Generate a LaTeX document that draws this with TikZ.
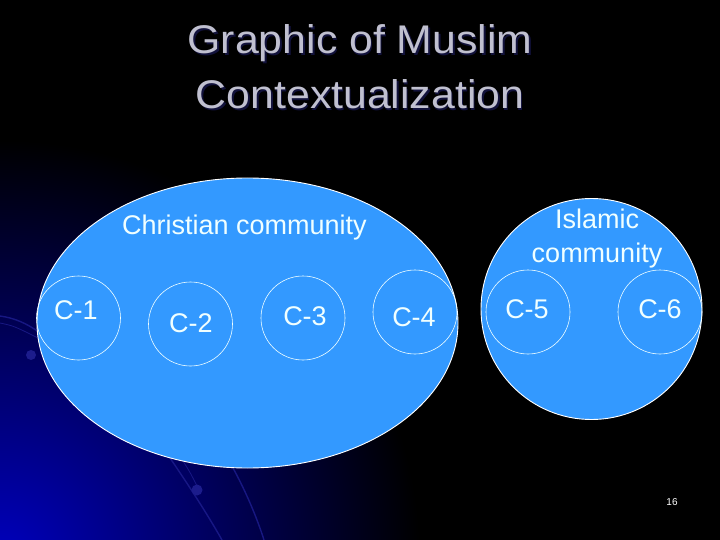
\documentclass[tikz,border=0pt]{standalone}
\usepackage{fontspec}
\setmainfont{Liberation Sans}
\usetikzlibrary{shapes.geometric}
\definecolor{skyfill}{RGB}{51,153,255}
\definecolor{titlegrey}{RGB}{192,192,208}
\definecolor{titleshadow}{RGB}{18,18,60}
\definecolor{deepblue}{RGB}{0,0,190}
\definecolor{arcblue}{RGB}{28,28,140}
\definecolor{labelwhite}{RGB}{240,255,255}
\begin{document}
\begin{tikzpicture}[x=1pt,y=-1pt,
  titletext/.style={anchor=base,inner sep=0pt,font=\fontsize{40}{48}\selectfont},
  community/.style={draw=white,line width=0.9pt,fill=skyfill},
  smallc/.style={circle,draw=labelwhite,line width=0.6pt,minimum size=84pt,inner sep=0pt},
  lbl/.style={anchor=base,inner sep=0pt,text=labelwhite,font=\fontsize{27}{33}\selectfont},
  arcline/.style={draw=arcblue,line width=1.4pt,opacity=0.85}]
\useasboundingbox (0,0) rectangle (720,540);
\fill[black] (0,0) rectangle (720,540);
\begin{scope}
  \clip (0,0) rectangle (720,540);
  \shade[inner color=deepblue, outer color=black] (0,560) circle[radius=420pt];
  % decorative arcs
  \path[arcline] (0,316) .. controls (15,318) and (28,324) .. (40,333);
  \path[arcline,line width=0.8pt] (0,323) .. controls (14,326) .. (38,338);
  \fill[arcblue] (31,355) circle[radius=5pt];
  \path[arcline] (168,455) .. controls (185,480) and (205,510) .. (222,540);
  \path[arcline,line width=0.8pt] (181,458) .. controls (190,472) .. (199,490);
  \fill[arcblue] (197,490) circle[radius=5.5pt];
  \path[arcline] (233,468) .. controls (245,490) and (256,515) .. (264,540);
\end{scope}

% title (with its soft shadow)
\foreach \t/\yy [count=\i] in {Graphic of Muslim/54, Contextualization/109}{
  \node[titletext,text=titleshadow] (shadow\i) at (361.5,\yy+1.5) {\scalebox{1.07}[1]{\t}};
  \node[titletext,text=titlegrey] (title\i) at (360,\yy) {\scalebox{1.07}[1]{\t}};
}

% communities
\node[community,ellipse,minimum width=421pt,minimum height=290pt,inner sep=0pt] (christian) at (247.5,323) {};
\node[community,circle,minimum size=221pt,inner sep=0pt] (islamic) at (591.5,309) {};

\node[lbl] (christianlbl) at (244.5,235) {Christian community};
\node[lbl] (islamiclbl1) at (597,229) {Islamic};
\node[lbl] (islamiclbl2) at (597,262) {community};

% C circles
\node[smallc] (c1) at (78.5,318) {};
\node[smallc] (c2) at (190.5,324) {};
\node[smallc] (c3) at (303,318) {};
\node[smallc] (c4) at (415,312) {};
\node[smallc] (c5) at (528,312) {};
\node[smallc] (c6) at (660,312) {};

\node[lbl] (t1) at (76,319) {C-1};
\node[lbl] (t2) at (191,332) {C-2};
\node[lbl] (t3) at (305,325) {C-3};
\node[lbl] (t4) at (414,326) {C-4};
\node[lbl] (t5) at (527,318) {C-5};
\node[lbl] (t6) at (660,318) {C-6};

% page number
\node[anchor=base,inner sep=0pt,text=white,font=\fontsize{10}{12}\selectfont] (pagenum) at (672,505) {16};
\end{tikzpicture}
\end{document}
